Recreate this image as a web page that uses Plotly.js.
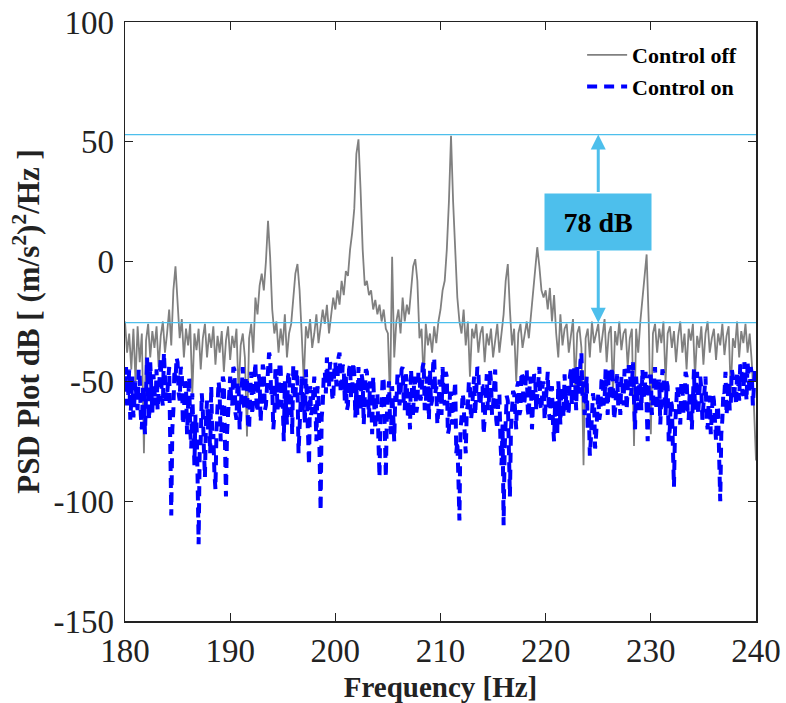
<!DOCTYPE html>
<html>
<head>
<meta charset="utf-8">
<script src="https://cdn.plot.ly/plotly-3.0.1.min.js"></script>
<style>html,body{margin:0;padding:0;background:#fff;}#chart{width:786px;height:703px;}</style>
</head>
<body>
<div id="chart"></div>
<script>
// Frequency grids (Hz)
const freqStart = 180;
const offStep = 0.2;
const onStep = 0.1;

// PSD, control off (dB), 0.2 Hz bins
const controlOff = [
-25,-38,-30,-45,-28, -50,-27,-42,-30,-80, -33,-26,-40,-29,-36, -27,-44,-31,-25,-38,
-30,-20,-35,-12,-2, -18,-32,-24,-40,-28, -35,-26,-55,-30,-37, -28,-45,-32,-26,-40,
-30,-36,-27,-43,-31, -38,-29,-46,-33,-27, -41,-31,-36,-28,-55, -35,-30,-40,-73,-32,
-26,-38,-15,-22,-10, -5,-12,0,17,2, -20,-30,-25,-38,-28, -35,-22,-40,-30,-26,
-15,-5,-1,-12,-30, -50,-27,-32,-24,-36, -30,-22,-34,-28,-20, -26,-18,-30,-22,-15,
-20,-12,-18,-8,-14, -4,-6,5,12,22, 45,51,30,5,-10, -8,-14,-12,-20,-16,
-22,-18,-25,-20,-28, -30,-58,2,-40,-25, -20,-30,-15,-25,-18, -22,-12,-2,1,-8,
-32,-28,-50,-26,-35, -30,-38,-27,-34,-25, -20,-12,-8,5,25, 52.5,25,5,-15,-25,
-30,-20,-35,-25,-48, -28,-32,-26,-38,-30, -27,-42,-30,-35,-28, -40,-32,-26,-38,-30,
-22,-8,-1,-20,-35, -28,-50,-30,-26,-36, -30,-25,-32,-22,-15, -5,6,-2,-12,-15,
-12,-20,-11,-25,-14, -30,-40,-22,-35,-28, -26,-38,-30,-24,-52, -30,-27,-36,-85,-32,
-28,-40,-25,-34,-30, -26,-38,-30,-24,-42, -30,-27,-55,-29,-35, -25,-37,-30,-28,-44,
-32,-28,-77,-28,-38, -25,-15,-5,3,-25, -72,-30,-26,-38,-28, -34,-25,-50,-30,-27,
-36,-29,-42,-31,-25, -38,-30,-45,-28,-33, -26,-48,-31,-36,-27, -43,-30,-25,-38,-32,
-28,-41,-30,-35,-26, -39,-31,-27,-55,-32, -36,-25,-40,-29,-34, -26,-38,-30,-42,-60,
-83
];

// PSD, control on (dB), 0.1 Hz bins
const controlOn = [
-52,-44,-60,-55,-45,-66,-58,-48,-65,-56, -50,-58,-62,-45,-47,-64,-70,-52,-55,-72,
-48,-40,-58,-66,-42,-55,-63,-47,-52,-60, -45,-62,-55,-43,-40,-57,-60,-38,-48,-58,
-56,-47,-44,-75,-106,-70,-62,-45,-50,-40, -42,-55,-58,-44,-46,-68,-64,-50,-52,-72,
-60,-48,-70,-78,-55,-72,-85,-64,-66,-90, -118,-80,-75,-55,-62,-78,-90,-66,-58,-70,
-65,-80,-52,-74,-72,-88,-95,-70,-60,-50, -55,-75,-68,-48,-50,-80,-98,-72,-62,-54,
-48,-58,-60,-44,-45,-63,-66,-50,-52,-70, -58,-46,-44,-60,-62,-48,-50,-68,-70,-55,
-46,-64,-57,-44,-42,-58,-63,-47,-50,-67, -55,-43,-45,-62,-60,-50,-48,-38,-40,-56,
-52,-70,-64,-45,-47,-62,-58,-42,-44,-60, -60,-75,-50,-62,-68,-48,-46,-64,-56,-72,
-43,-55,-58,-45,-50,-80,-66,-52,-48,-62, -55,-68,-45,-58,-70,-85,-52,-64,-62,-50,
-48,-60,-75,-52,-55,-80,-104,-65,-60,-47, -46,-55,-40,-50,-52,-42,-44,-56,-58,-45,
-42,-52,-50,-40,-38,-54,-55,-43,-45,-58, -48,-62,-60,-45,-43,-57,-54,-42,-47,-65,
-52,-64,-44,-55,-62,-47,-50,-68,-57,-45, -46,-58,-65,-50,-53,-72,-48,-60,-70,-55,
-55,-75,-90,-62,-60,-48,-50,-70,-90,-64, -58,-50,-66,-72,-52,-62,-75,-56,-60,-48,
-48,-60,-56,-45,-44,-58,-62,-47,-50,-65, -58,-70,-45,-55,-65,-48,-52,-63,-60,-46,
-47,-58,-55,-44,-42,-62,-60,-48,-50,-66, -45,-60,-58,-43,-40,-55,-52,-68,-62,-50,
-50,-64,-44,-56,-60,-46,-48,-72,-70,-55, -55,-68,-62,-52,-50,-80,-75,-90,-108,-70,
-65,-55,-58,-72,-80,-62,-60,-50,-52,-66, -62,-54,-48,-64,-56,-44,-45,-60,-60,-52,
-52,-72,-66,-48,-47,-62,-58,-45,-50,-64, -60,-52,-45,-66,-70,-58,-55,-75,-85,-68,
-110,-78,-65,-56,-58,-82,-98,-70,-62,-54, -55,-66,-70,-52,-50,-64,-62,-46,-48,-60,
-58,-50,-45,-62,-65,-48,-52,-70,-60,-47, -48,-62,-56,-46,-44,-60,-62,-52,-50,-66,
-58,-48,-46,-63,-66,-54,-52,-68,-75,-58, -60,-72,-50,-58,-68,-52,-55,-65,-47,-60,
-52,-64,-62,-48,-45,-60,-58,-44,-50,-62, -44,-52,-55,-42,-38,-56,-50,-64,-60,-48,
-70,-62,-81,-74,-65,-55,-58,-78,-72,-60, -55,-66,-63,-50,-48,-60,-58,-45,-52,-64,
-45,-58,-56,-44,-50,-66,-62,-48,-47,-60, -55,-64,-48,-52,-60,-45,-46,-62,-53,-44,
-44,-56,-52,-42,-58,-70,-48,-60,-62,-50, -50,-62,-45,-55,-57,-46,-66,-75,-52,-48,
-48,-64,-58,-46,-44,-60,-62,-50,-50,-68, -56,-45,-47,-62,-64,-50,-52,-75,-70,-58,
-60,-78,-94,-70,-62,-52,-55,-66,-68,-50, -52,-64,-60,-46,-48,-62,-66,-54,-55,-70,
-50,-45,-62,-56,-46,-64,-58,-48,-53,-66, -60,-52,-48,-66,-70,-58,-56,-72,-64,-55,
-58,-68,-75,-60,-62,-82,-100,-72,-66,-54, -55,-46,-64,-58,-50,-62,-60,-45,-48,-58,
-52,-60,-46,-50,-58,-43,-44,-55,-56,-42, -50,-58,-42,-48,-55,-44,-47,-60,-52,-45,
-48
];

// Reference levels (dB)
const peakLevel = 53;
const floorLevel = -25.5;
const arrowFreq = 225;
const boxTop = 28.4;
const boxBottom = 5.0;
const reductionLabel = '78 dB';

// Tick labels
const xTickVals = [180, 190, 200, 210, 220, 230, 240];
const xTickText = ['180', '190', '200', '210', '220', '230', '240'];
const yTickVals = [100, 50, 0, -50, -100, -150];
const yTickText = ['100', '50', '0', '-50', '-100', '-150'];

const serif = 'Liberation Serif, Times New Roman, serif';
const cyan = '#4DBFEC';

const traces = [
  {
    type: 'scatter', mode: 'lines', name: 'Control off',
    x0: freqStart, dx: offStep, y: controlOff,
    line: {color: '#808080', width: 1.8}
  },
  {
    type: 'scatter', mode: 'lines', name: 'Control on',
    x0: freqStart, dx: onStep, y: controlOn,
    line: {color: '#0000FF', width: 4, dash: '10px,7px'}
  }
];

const layout = {
  width: 786, height: 703,
  margin: {l: 125, r: 30, t: 22, b: 82},
  paper_bgcolor: '#fff', plot_bgcolor: '#fff',
  font: {family: serif, color: '#000'},
  showlegend: true,
  legend: {
    x: 0.978, xanchor: 'right', y: 0.98, yanchor: 'top',
    bgcolor: 'rgba(0,0,0,0)', itemwidth: 40,
    font: {family: serif, size: 22, weight: 'bold', color: '#000'},
    tracegroupgap: 0
  },
  xaxis: {
    range: [180, 240], tickvals: xTickVals, ticktext: xTickText,
    ticks: 'inside', ticklen: 8, tickwidth: 1, tickcolor: '#222',
    showline: true, linecolor: '#222', linewidth: 1.5, mirror: 'ticks',
    showgrid: false, zeroline: false,
    tickfont: {family: serif, size: 33, color: '#222'},
    title: {text: 'Frequency [Hz]', font: {family: serif, size: 29, weight: 'bold', color: '#222'}, standoff: 10}
  },
  yaxis: {
    range: [-150, 100], tickvals: yTickVals, ticktext: yTickText,
    ticks: 'inside', ticklen: 8, tickwidth: 1, tickcolor: '#222',
    showline: true, linecolor: '#222', linewidth: 1.5, mirror: 'ticks',
    showgrid: false, zeroline: false, ticklabelstandoff: 3,
    tickfont: {family: serif, size: 33, color: '#222'},
    title: {text: 'PSD Plot dB [ (m/s<sup>2</sup>)<sup>2</sup>/Hz ]', font: {family: serif, size: 31, weight: 'bold', color: '#222'}, standoff: 4}
  },
  shapes: [
    {type: 'line', xref: 'x', yref: 'y', x0: 180, x1: 240, y0: peakLevel, y1: peakLevel, line: {color: cyan, width: 1.3}, layer: 'above'},
    {type: 'line', xref: 'x', yref: 'y', x0: 180, x1: 240, y0: floorLevel, y1: floorLevel, line: {color: cyan, width: 1.3}, layer: 'above'}
  ],
  annotations: [
    {x: arrowFreq, y: peakLevel, xref: 'x', yref: 'y', ax: arrowFreq, ay: boxTop, axref: 'x', ayref: 'y',
     text: '', showarrow: true, arrowhead: 2, arrowsize: 1, arrowwidth: 3, arrowcolor: cyan},
    {x: arrowFreq, y: floorLevel, xref: 'x', yref: 'y', ax: arrowFreq, ay: boxBottom, axref: 'x', ayref: 'y',
     text: '', showarrow: true, arrowhead: 2, arrowsize: 1, arrowwidth: 3, arrowcolor: cyan},
    {x: arrowFreq, y: (boxTop + boxBottom) / 2, xref: 'x', yref: 'y', showarrow: false,
     text: '<b>' + reductionLabel + '</b>', bgcolor: cyan, width: 100, height: 50, borderpad: 3,
     font: {family: serif, size: 28, color: '#000'}}
  ]
};

Plotly.newPlot('chart', traces, layout, {displayModeBar: false, staticPlot: true});
</script>
</body>
</html>
